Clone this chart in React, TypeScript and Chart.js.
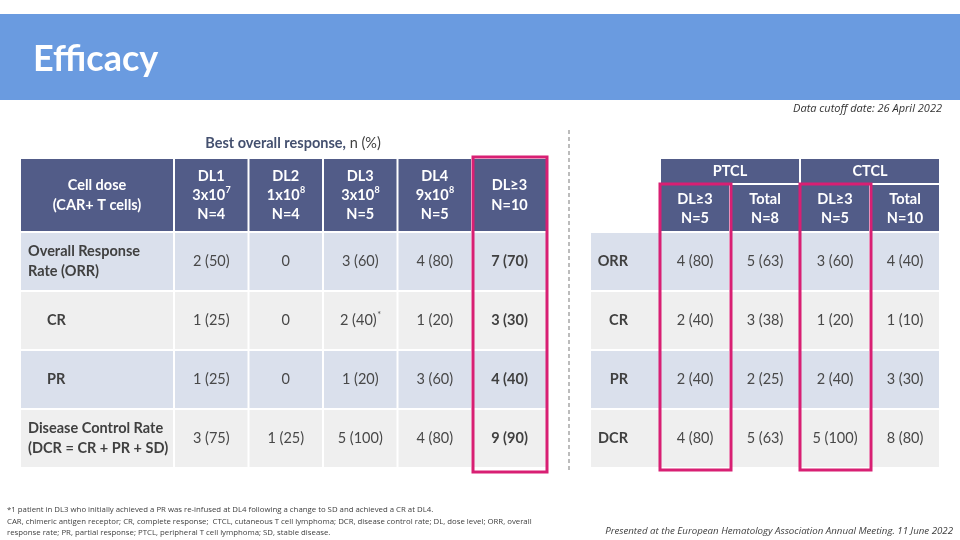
import React, { useEffect, useRef } from 'react';
import { Chart, registerables } from 'chart.js';

Chart.register(...registerables);

// ---------- DATA ----------
const slideTitle = 'Efficacy';
const cutoffNote = 'Data cutoff date: 26 April 2022';
const tableCaptionBold = 'Best overall response,';
const tableCaptionRest = ' n (%)';

const leftHeaderLabel = ['Cell dose', '(CAR+ T cells)'];
const leftColumns = ['DL1', 'DL2', 'DL3', 'DL4', 'DL≥3'];
const doseBase = ['3x10', '1x10', '3x10', '9x10', ''];
const doseExp = ['7', '8', '8', '8', ''];
const leftN = [4, 4, 5, 5, 10];

const leftRowLabels = [
  ['Overall Response', 'Rate (ORR)'],
  ['CR'],
  ['PR'],
  ['Disease Control Rate', '(DCR = CR + PR + SD)'],
];
const leftIndented = [false, true, true, false];
const leftCounts = [
  [2, 0, 3, 4, 7],
  [1, 0, 2, 1, 3],
  [1, 0, 1, 3, 4],
  [3, 1, 5, 4, 9],
];
const leftPct = [
  [50, 0, 60, 80, 70],
  [25, 0, 40, 20, 30],
  [25, 0, 20, 60, 40],
  [75, 25, 100, 80, 90],
];
const leftMarks = [
  ['', '', '', '', ''],
  ['', '', '*', '', ''],
  ['', '', '', '', ''],
  ['', '', '', '', ''],
];

const rightGroups = ['PTCL', 'CTCL'];
const rightSub = ['DL≥3', 'Total', 'DL≥3', 'Total'];
const rightN = [5, 8, 5, 10];
const rightRowLabels = ['ORR', 'CR', 'PR', 'DCR'];
const rightCounts = [
  [4, 5, 3, 4],
  [2, 3, 1, 1],
  [2, 2, 2, 3],
  [4, 5, 5, 8],
];
const rightPct = [
  [80, 63, 60, 40],
  [40, 38, 20, 10],
  [40, 25, 40, 30],
  [80, 63, 100, 80],
];

const footnotes = [
  '*1 patient in DL3 who initially achieved a PR was re-infused at DL4 following a change to SD and achieved a CR at DL4.',
  'CAR, chimeric antigen receptor; CR, complete response;  CTCL, cutaneous T cell lymphoma; DCR, disease control rate; DL, dose level; ORR, overall',
  'response rate; PR, partial response; PTCL, peripheral T cell lymphoma; SD, stable disease.',
];
const presentedNote = 'Presented at the European Hematology Association Annual Meeting. 11 June 2022';

// ---------- LAYOUT / STYLE ----------
const BAND = '#6A9BE0';
const HEAD = '#525C88';
const ROW_A = '#DAE0EC';
const ROW_B = '#EFEFEF';
const TXT = '#404040';
const VAL = '#484848';
const PINK = '#D81F73';
const CAPTION = '#44506F';
const SANS = 'Lato, "Open Sans", sans-serif';
const NOTE = '"Open Sans", Lato, sans-serif';

const L_COLS = [20, 174, 248.5, 323, 397.5, 472, 547];
const ROW_EDGES = [232, 291, 350, 409, 468];
const HEAD_TOP = 158;
const R_COLS = [590, 660, 730, 800, 870, 940];
const R_HEAD_MID = 184;

function fmt(n: number, p: number) {
  return n === 0 ? '0' : `${n} (${p})`;
}

const tablePlugin = {
  id: 'slideTables',
  afterDraw(chart: any) {
    const { ctx } = chart;
    const xs = chart.scales.x;
    const ys = chart.scales.y;
    const X = (v: number) => xs.getPixelForValue(v);
    const Y = (v: number) => ys.getPixelForValue(v);

    const cell = (x0: number, y0: number, x1: number, y1: number, color: string) => {
      ctx.fillStyle = color;
      const a = X(x0), b = Y(y0), c = X(x1), d = Y(y1);
      ctx.fillRect(a + 1, b + 1, c - a - 2, d - b - 2);
    };
    const text = (s: string, x: number, y: number, font: string, color: string, align: CanvasTextAlign = 'center') => {
      ctx.font = font;
      ctx.fillStyle = color;
      ctx.textAlign = align;
      ctx.textBaseline = 'middle';
      ctx.fillText(s, X(x), Y(y));
    };
    const rich = (base: string, sup: string, cx: number, cy: number, font: string, supFont: string, color: string) => {
      ctx.font = font;
      const w1 = ctx.measureText(base).width;
      ctx.font = supFont;
      const w2 = sup ? ctx.measureText(sup).width : 0;
      const start = X(cx) - (w1 + w2) / 2;
      ctx.fillStyle = color;
      ctx.textBaseline = 'middle';
      ctx.textAlign = 'left';
      ctx.font = font;
      ctx.fillText(base, start, Y(cy));
      if (sup) {
        ctx.font = supFont;
        ctx.fillText(sup, start + w1 + 0.5, Y(cy) - 5);
      }
    };

    ctx.save();
    // title band
    ctx.fillStyle = BAND;
    ctx.fillRect(X(0), Y(14), X(960) - X(0), Y(100) - Y(14));
    ctx.font = `bold 36px ${SANS}`;
    ctx.fillStyle = '#FFFFFF';
    ctx.textAlign = 'left';
    ctx.textBaseline = 'alphabetic';
    ctx.fillText(slideTitle, X(33), Y(71));

    text(cutoffNote, 942, 109, `italic 11px ${NOTE}`, '#333333', 'right');

    // caption
    ctx.font = `bold 14.5px ${SANS}`;
    const wb = ctx.measureText(tableCaptionBold).width;
    ctx.font = `14.5px ${SANS}`;
    const wr = ctx.measureText(tableCaptionRest).width;
    const cs = X(293) - (wb + wr) / 2;
    ctx.textAlign = 'left';
    ctx.textBaseline = 'middle';
    ctx.font = `bold 14.5px ${SANS}`;
    ctx.fillStyle = CAPTION;
    ctx.fillText(tableCaptionBold, cs, Y(143));
    ctx.font = `14.5px ${SANS}`;
    ctx.fillStyle = TXT;
    ctx.fillText(tableCaptionRest, cs + wb, Y(143));

    // dashed divider
    ctx.strokeStyle = '#A6A6A6';
    ctx.lineWidth = 1.5;
    ctx.setLineDash([4, 3]);
    ctx.beginPath();
    ctx.moveTo(X(569), Y(130));
    ctx.lineTo(X(569), Y(470));
    ctx.stroke();
    ctx.setLineDash([]);

    const hFont = `bold 14.5px ${SANS}`;
    const supFont = `bold 9px ${SANS}`;
    const lblFont = `bold 14.5px ${SANS}`;
    const valFont = `14.5px ${SANS}`;
    const valBold = `bold 14.5px ${SANS}`;

    // ----- left table -----
    for (let c = 0; c < L_COLS.length - 1; c++) {
      cell(L_COLS[c], HEAD_TOP, L_COLS[c + 1], ROW_EDGES[0], HEAD);
    }
    const hMid = (HEAD_TOP + ROW_EDGES[0]) / 2;
    text(leftHeaderLabel[0], (L_COLS[0] + L_COLS[1]) / 2, hMid - 10, hFont, '#FFFFFF');
    text(leftHeaderLabel[1], (L_COLS[0] + L_COLS[1]) / 2, hMid + 10, hFont, '#FFFFFF');
    leftColumns.forEach((name, i) => {
      const cx = (L_COLS[i + 1] + L_COLS[i + 2]) / 2;
      if (doseBase[i]) {
        text(name, cx, hMid - 19, hFont, '#FFFFFF');
        rich(doseBase[i], doseExp[i], cx, hMid, hFont, supFont, '#FFFFFF');
        text(`N=${leftN[i]}`, cx, hMid + 19, hFont, '#FFFFFF');
      } else {
        text(name, cx, hMid - 10, hFont, '#FFFFFF');
        text(`N=${leftN[i]}`, cx, hMid + 10, hFont, '#FFFFFF');
      }
    });
    leftRowLabels.forEach((lines, r) => {
      const y0 = ROW_EDGES[r], y1 = ROW_EDGES[r + 1];
      const bg = r % 2 === 0 ? ROW_A : ROW_B;
      for (let c = 0; c < L_COLS.length - 1; c++) cell(L_COLS[c], y0, L_COLS[c + 1], y1, bg);
      const mid = (y0 + y1) / 2;
      const lx = leftIndented[r] ? 47 : 28;
      if (lines.length === 2) {
        text(lines[0], lx, mid - 10, lblFont, TXT, 'left');
        text(lines[1], lx, mid + 10, lblFont, TXT, 'left');
      } else {
        text(lines[0], lx, mid, lblFont, TXT, 'left');
      }
      leftCounts[r].forEach((n, c) => {
        const cx = (L_COLS[c + 1] + L_COLS[c + 2]) / 2;
        const last = c === leftCounts[r].length - 1;
        rich(fmt(n, leftPct[r][c]), leftMarks[r][c], cx, mid, last ? valBold : valFont, `9px ${SANS}`, last ? TXT : VAL);
      });
    });

    // ----- right table -----
    rightGroups.forEach((g, i) => {
      const x0 = R_COLS[1 + i * 2], x1 = R_COLS[3 + i * 2];
      cell(x0, HEAD_TOP, x1, R_HEAD_MID, HEAD);
      text(g, (x0 + x1) / 2, (HEAD_TOP + R_HEAD_MID) / 2 + 0.5, hFont, '#FFFFFF');
    });
    const sMid = (R_HEAD_MID + ROW_EDGES[0]) / 2;
    rightSub.forEach((s, i) => {
      const x0 = R_COLS[i + 1], x1 = R_COLS[i + 2];
      cell(x0, R_HEAD_MID, x1, ROW_EDGES[0], HEAD);
      text(s, (x0 + x1) / 2, sMid - 9, hFont, '#FFFFFF');
      text(`N=${rightN[i]}`, (x0 + x1) / 2, sMid + 10, hFont, '#FFFFFF');
    });
    rightRowLabels.forEach((lbl, r) => {
      const y0 = ROW_EDGES[r], y1 = ROW_EDGES[r + 1];
      const bg = r % 2 === 0 ? ROW_A : ROW_B;
      for (let c = 0; c < R_COLS.length - 1; c++) cell(R_COLS[c], y0, R_COLS[c + 1], y1, bg);
      const mid = (y0 + y1) / 2;
      text(lbl, 628, mid, lblFont, TXT, 'right');
      rightCounts[r].forEach((n, c) => {
        const cx = (R_COLS[c + 1] + R_COLS[c + 2]) / 2;
        text(fmt(n, rightPct[r][c]), cx, mid, valFont, VAL);
      });
    });

    // highlight boxes
    ctx.strokeStyle = PINK;
    ctx.lineWidth = 3;
    const box = (x0: number, y0: number, x1: number, y1: number) => {
      ctx.strokeRect(X(x0), Y(y0), X(x1) - X(x0), Y(y1) - Y(y0));
    };
    box(L_COLS[5] + 1, 157, L_COLS[6], 472);
    box(R_COLS[1], R_HEAD_MID, R_COLS[2] + 1, 470);
    box(R_COLS[3], R_HEAD_MID, R_COLS[4] + 1, 470);

    // footnotes
    footnotes.forEach((s, i) => {
      text(s, 7, 510 + i * 11.5, `7.8px ${NOTE}`, '#404040', 'left');
    });
    text(presentedNote, 953, 531, `italic 9.7px ${NOTE}`, '#404040', 'right');
    ctx.restore();
  },
};

export default function App() {
  const ref = useRef<HTMLCanvasElement>(null);
  useEffect(() => {
    if (!ref.current) return;
    const chart = new Chart(ref.current, {
      type: 'scatter',
      data: { datasets: [] },
      options: {
        responsive: false,
        animation: false,
        devicePixelRatio: 1,
        layout: { padding: 0 },
        plugins: { legend: { display: false }, tooltip: { enabled: false }, title: { display: false } },
        scales: {
          x: { type: 'linear', min: 0, max: 960, display: false },
          y: { type: 'linear', min: 0, max: 540, reverse: true, display: false },
        },
      },
      plugins: [tablePlugin],
    });
    return () => chart.destroy();
  }, []);
  return (
    <div style={{ position: 'fixed', left: 0, top: 0, width: 960, height: 540, background: '#FFFFFF' }}>
      <canvas ref={ref} width={960} height={540} style={{ display: 'block' }} />
    </div>
  );
}
